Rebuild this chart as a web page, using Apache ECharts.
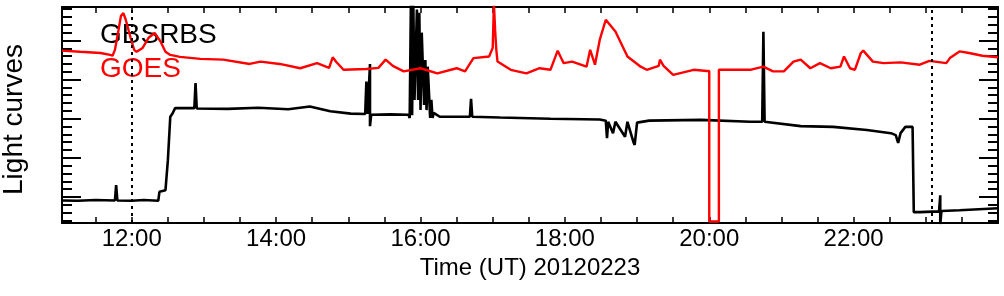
<!DOCTYPE html>
<html>
<head>
<meta charset="utf-8">
<script src="https://cdn.jsdelivr.net/npm/echarts@6/dist/echarts.min.js"></script>
<style>
html,body{margin:0;padding:0;background:#fff;}
#chart{width:1004px;height:296px;}
</style>
</head>
<body>
<div id="chart"></div>
<script>
// ---- data (time UT "HH:MM", relative light-curve level) ----
const gbsrbsTime = ["11:02","11:15","11:30","11:46","11:47","11:48","12:00","12:10","12:22","12:23","12:28","12:30","12:32","12:34","12:36","12:52","12:53","12:54","13:20","13:45","14:10","14:28","14:45","15:02","15:14","15:15","15:16","15:18","15:18","15:19","15:35","15:50","15:51","15:52","15:53","15:54","15:55","15:57","15:58","15:59","16:00","16:01","16:03","16:04","16:05","16:06","16:08","16:09","16:10","16:11","16:16","16:41","16:42","16:43","17:06","17:48","18:29","18:34","18:35","18:36","18:40","18:42","18:50","18:52","18:57","18:58","19:00","19:10","19:53","20:34","20:44","20:45","20:46","21:16","21:43","22:11","22:31","22:35","22:37","22:39","22:43","22:49","22:50","22:55","23:11","23:12","23:12","23:13","23:28","24:00"];
const gbsrbsFlux = [-0.09,-0.10,-0.08,-0.09,0.30,-0.09,-0.10,-0.08,-0.10,0.13,0.17,0.94,2.05,2.14,2.27,2.27,2.91,2.26,2.25,2.28,2.24,2.31,2.19,2.13,2.12,2.95,2.12,3.40,1.81,2.10,2.11,2.10,2.02,4.95,2.09,4.95,2.48,4.79,2.48,4.71,2.22,4.20,2.35,3.50,2.22,3.33,2.02,2.48,2.02,2.15,2.05,2.05,2.51,2.05,2.03,2.00,1.98,1.95,1.50,1.92,1.63,1.92,1.54,1.92,1.40,1.33,1.90,1.95,1.97,1.92,1.92,4.22,1.92,1.81,1.79,1.71,1.63,1.58,1.38,1.63,1.79,1.79,-0.39,-0.39,-0.37,0.04,-0.70,-0.36,-0.34,-0.29];

const goesTime = ["11:02","11:17","11:34","11:42","11:44","11:46","11:49","11:51","11:53","11:55","11:59","12:02","12:04","12:09","12:14","12:19","12:24","12:28","12:32","12:40","12:57","13:16","13:38","13:47","14:03","14:20","14:34","14:44","14:47","14:50","14:56","15:15","15:25","15:31","15:37","15:46","16:00","16:14","16:30","16:37","16:44","16:57","17:00","17:01","17:02","17:03","17:04","17:15","17:28","17:39","17:48","17:54","17:59","18:06","18:18","18:21","18:25","18:29","18:34","18:42","18:52","19:03","19:08","19:18","19:19","19:22","19:30","19:47","19:58","20:00","20:00","20:08","20:08","20:34","20:45","20:53","21:02","21:10","21:16","21:24","21:32","21:41","21:49","21:52","21:57","22:01","22:06","22:08","22:16","22:25","22:39","22:55","23:03","23:17","23:20","23:28","23:36","23:47","24:00"];
const goesFlux = [3.74,3.71,3.68,3.63,3.61,3.76,4.27,4.63,4.70,4.53,4.07,3.76,3.71,3.81,4.07,4.19,3.97,3.71,3.63,3.58,3.53,3.51,3.40,3.46,3.40,3.29,3.42,3.30,3.57,3.45,3.25,3.27,3.30,3.51,3.35,3.21,3.29,3.16,3.29,3.21,3.55,3.59,3.81,4.95,4.27,3.76,3.46,3.25,3.16,3.29,3.25,3.74,3.42,3.46,3.33,3.76,3.38,4.02,4.53,4.23,3.59,3.33,3.25,3.35,3.51,3.35,3.12,3.25,3.22,3.22,-0.63,-0.63,3.25,3.25,3.33,3.21,3.21,3.46,3.51,3.29,3.42,3.29,3.33,3.59,3.29,3.25,3.68,3.74,3.46,3.42,3.44,3.38,3.48,3.42,3.55,3.72,3.68,3.61,3.57];

const timeTickLabels = ["12:00","14:00","16:00","18:00","20:00","22:00"];
const eventTimes = ["12:00","23:05"];
const timeRange = ["11:02","24:00"];
const levelRange = [-0.667, 4.856];
const levelMajorTicks = [0,1,2,3,4];

// ---- helpers ----
function toHours(s){ const p = s.split(":"); return (+p[0]) + (+p[1])/60; }
function pairs(t, v){ return t.map((s,i)=>[toHours(s), v[i]]); }
function fmt(h){ const hh = Math.floor(h+1e-9), mm = Math.round((h-hh)*60); return String(hh).padStart(2,"0")+":"+String(mm).padStart(2,"0"); }

const xMin = toHours(timeRange[0]), xMax = toHours(timeRange[1]);
const halfHourTicks = [];
for (let h = Math.ceil(xMin*2)/2; h <= xMax - 0.01; h += 0.5) halfHourTicks.push(h);
const minorLevels = [];
for (let k = Math.ceil(levelRange[0]*5); k <= Math.floor(levelRange[1]*5); k++) { if (k % 5 !== 0) minorLevels.push(k/5); }

const FONT = "'Liberation Sans', Arial, Helvetica, sans-serif";
const axisLine = {show:true, onZero:false, lineStyle:{color:'#000', width:2}};

function xAx(pos, labels){
  return {
    type:'value', position:pos, min:xMin, max:xMax,
    axisLine: axisLine,
    axisTick:{show:true, inside:true, length:6, customValues:halfHourTicks, lineStyle:{color:'#000', width:1.5}},
    axisLabel: labels ? {show:true, customValues:timeTickLabels.map(toHours), formatter:(v)=>fmt(v), color:'#000', fontSize:24, fontFamily:FONT, margin:4} : {show:false},
    splitLine:{show:false},
    name: labels ? 'Time (UT) 20120223' : '',
    nameLocation:'middle', nameGap:32,
    nameTextStyle:{color:'#000', fontSize:24, fontFamily:FONT}
  };
}
function yAx(pos, vals, len, line){
  return {
    type:'value', position:pos, min:levelRange[0], max:levelRange[1],
    axisLine: line ? axisLine : {show:false, onZero:false},
    axisTick:{show:true, inside:true, length:len, customValues:vals, lineStyle:{color:'#000', width:2}},
    axisLabel:{show:false}, splitLine:{show:false}
  };
}

const chart = echarts.init(document.getElementById('chart'), null, {renderer:'canvas'});
chart.setOption({
  animation:false,
  backgroundColor:'#fff',
  grid:{left:62, right:6, top:7, bottom:73, containLabel:false},
  xAxis:[ xAx('bottom', true), xAx('top', false) ],
  yAxis:[ yAx('left', levelMajorTicks, 19, true), yAx('left', minorLevels, 10, false),
          yAx('right', levelMajorTicks, 19, true), yAx('right', minorLevels, 10, false) ],
  graphic:[
    {type:'text', x:100, y:35.5, z:1, style:{text:'GBSRBS', fill:'#000', font:'28px '+FONT, verticalAlign:'middle', align:'left'}},
    {type:'text', x:100, y:69.5, z:1, style:{text:'GOES', fill:'#ff0000', font:'28px '+FONT, verticalAlign:'middle', align:'left'}},
    {type:'text', x:14, y:119.5, rotation:Math.PI/2, style:{text:'Light curves', fill:'#000', font:'28px '+FONT, verticalAlign:'middle', align:'center'}}
  ],
  series:[
    {name:'GBSRBS', type:'line', xAxisIndex:0, yAxisIndex:0, data:pairs(gbsrbsTime, gbsrbsFlux),
     showSymbol:false, symbol:'none', lineStyle:{color:'#000', width:2.6}, z:3, clip:true,
     markLine:{silent:true, symbol:['none','none'], label:{show:false},
       lineStyle:{color:'#000', width:2, type:[3,4]},
       data:eventTimes.map(t=>({xAxis:toHours(t)}))}},
    {name:'GOES', type:'line', xAxisIndex:0, yAxisIndex:0, data:pairs(goesTime, goesFlux),
     showSymbol:false, symbol:'none', lineStyle:{color:'#ff0000', width:2.4}, z:4, clip:true}
  ]
});
</script>
</body>
</html>
